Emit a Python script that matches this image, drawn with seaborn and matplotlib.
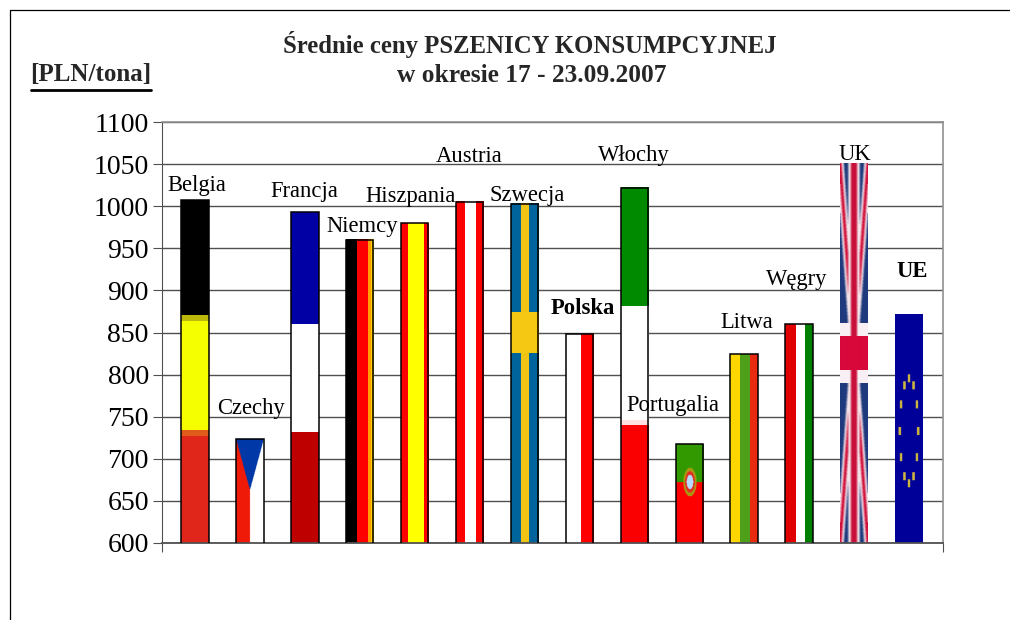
import numpy as np
import pandas as pd
import matplotlib.pyplot as plt
import seaborn as sns
from matplotlib.colors import to_rgb
from matplotlib.lines import Line2D

# Dane
kraje = ['Belgia', 'Czechy', 'Francja', 'Niemcy', 'Hiszpania', 'Austria', 'Szwecja',
         'Polska', 'Włochy', 'Portugalia', 'Litwa', 'Węgry', 'UK', 'UE']
ceny = [1007, 723, 993, 960, 980, 1005, 1003, 848, 1022, 717, 824, 860, 1051, 871]
skala_y = list(range(600, 1101, 50))
tytul = 'Średnie ceny PSZENICY KONSUMPCYJNEJ'
podtytul = 'w okresie 17 - 23.09.2007'
jednostka = '[PLN/tona]'

# Przesuniecia etykiet wzgledem srodka gornej krawedzi slupka (piksele)
przesuniecia = {'Belgia': (2, 15), 'Czechy': (1, 31), 'Francja': (0, 21), 'Niemcy': (2, 13),
                'Hiszpania': (-4, 27), 'Austria': (0, 45), 'Szwecja': (3, 8), 'Polska': (3, 26),
                'Włochy': (0, 32), 'Portugalia': (-16, 39), 'Litwa': (3, 32), 'Węgry': (-2, 45),
                'UK': (1, 9), 'UE': (3, 43)}
pogrubione = ['Polska', 'UE']

# Pasy flag: (kolor, udzial)
poziome = {
    'Belgia': [('#000000', 115), ('#bdb90a', 6), ('#f5ff00', 109), ('#e05a1a', 6), ('#e0261a', 107)],
    'Francja': [('#0000a5', 112), ('#ffffff', 108), ('#bf0000', 111)],
    'Włochy': [('#008a00', 119), ('#ffffff', 113), ('#ffdfdf', 5), ('#fa0000', 118)],
}
pionowe = {
    'Niemcy': [('#000000', 10), ('#ff0000', 10), ('#ffa000', 3), ('#ffd000', 3)],
    'Hiszpania': [('#ff0000', 7), ('#ffff00', 16), ('#ff0000', 5)],
    'Austria': [('#ff0000', 9), ('#ffffff', 11), ('#ff0000', 8)],
    'Polska': [('#ffffff', 14), ('#ff0000', 13)],
    'Litwa': [('#ffd700', 10), ('#4ea01a', 9), ('#e82a10', 8)],
    'Węgry': [('#e00000', 11), ('#ffffff', 10), ('#008000', 8)],
}


def pasy(lista, poziomo):
    kolory = np.repeat([to_rgb(k) for k, _ in lista], [u for _, u in lista], axis=0)
    return kolory[:, None, :] if poziomo else kolory[None, :, :]


def siatka(h, w):
    return np.meshgrid(np.linspace(-1, 1, w), np.linspace(-1, 1, h))


def rozmyj(img, n):
    # proste rozmycie w poziomie
    okno = np.ones(n) / n
    wynik = np.zeros(img.shape)
    for k in range(3):
        for r in range(img.shape[0]):
            wynik[r, :, k] = np.convolve(np.pad(img[r, :, k], n, mode='edge'), okno, mode='same')[n:-n]
    return wynik


def czechy():
    u, v = siatka(200, 60)
    img = np.ones((200, 60, 3))
    img[u < 0] = to_rgb('#f01a08')
    img[(v + 1) / 0.98 < 1 - np.abs(u)] = to_rgb('#0038a8')
    return img


def szwecja():
    u, v = siatka(340, 58)
    img = np.zeros((340, 58, 3)) + to_rgb('#00649c')
    img[np.abs(u - 0.0) < 0.27] = to_rgb('#f0c414')
    img[(v > -0.36) & (v < -0.12)] = to_rgb('#f5c814')
    return img


def portugalia():
    u, v = siatka(200, 56)
    img = np.zeros((200, 56, 3)) + to_rgb('#ff0000')
    img[v < -0.234] = to_rgb('#339900')
    r = np.sqrt((u / 0.48) ** 2 + ((v + 0.234) / 0.29) ** 2)
    img[r < 1] = to_rgb('#a89a10')
    img[r < 0.75] = to_rgb('#e03020')
    img[r < 0.5] = to_rgb('#b8dcff')
    return img


def wielka_brytania():
    u, v = siatka(380, 108)
    img = np.zeros((380, 108, 3)) + to_rgb('#1f3a7d')
    d = np.abs(np.abs(u) - np.abs(v))
    img[d < 0.26] = to_rgb('#f4e4ea')
    img[d < 0.11] = to_rgb('#d0103a')
    img[np.abs(u) < 0.42] = to_rgb('#f4e4ea')
    img[np.abs(v) < 0.16] = to_rgb('#f8f0f4')
    img[np.abs(u) < 0.22] = to_rgb('#c8103a')
    img[np.abs(v) < 0.09] = to_rgb('#d8083c')
    return rozmyj(img, 9)


def unia():
    u, v = siatka(456, 120)
    img = np.zeros((456, 120, 3)) + to_rgb('#000099')
    for kat in np.radians(np.arange(0, 360, 30)):
        su, sv = 0.66 * np.cos(kat), 0.46 * np.sin(kat) + 0.02
        img[(np.abs(u - su) < 0.09) & (np.abs(v - sv) < 0.035)] = to_rgb('#d0b840')
    return img


obrazy = {'Czechy': czechy(), 'Szwecja': szwecja(), 'Portugalia': portugalia(),
          'UK': wielka_brytania(), 'UE': unia()}
for k, lista in poziome.items():
    obrazy[k] = pasy(lista, True)
for k, lista in pionowe.items():
    obrazy[k] = pasy(lista, False)

df = pd.DataFrame({'kraj': kraje, 'cena': ceny})

sns.set_style('white')
plt.rcParams['font.family'] = ['Liberation Serif', 'DejaVu Serif']

fig = plt.figure(figsize=(10.1, 6.2), dpi=100)
ax = fig.add_axes([162 / 1010, 77 / 620, 781 / 1010, 421 / 620])

sns.barplot(data=df, x='kraj', y='cena', width=0.5, ax=ax, color='white')

ax.set_ylim(600, 1100)
ax.set_yticks(skala_y)
ax.yaxis.grid(True, color='#505050', linewidth=1)
ax.set_axisbelow(True)

# Wypelnienie slupkow flagami
for bar, kraj in zip(ax.patches, kraje):
    x0, x1 = bar.get_x(), bar.get_x() + bar.get_width()
    gora = bar.get_height()
    interp = 'antialiased' if kraj in ['UK', 'UE', 'Portugalia', 'Czechy'] else 'nearest'
    ax.imshow(obrazy[kraj], extent=(x0, x1, 600, gora), aspect='auto', zorder=2, interpolation=interp)
    bar.set_facecolor('none')
    bar.set_zorder(3)
    if kraj in ['UK', 'UE']:
        bar.set_edgecolor('none')
    else:
        bar.set_edgecolor('black')
        bar.set_linewidth(1.1)
    ax.annotate(kraj, xy=((x0 + x1) / 2, gora), xytext=przesuniecia[kraj], textcoords='offset pixels',
                ha='center', va='center', fontsize=16.3, color='black', zorder=5, annotation_clip=False,
                fontweight='bold' if kraj in pogrubione else 'normal')

ax.set_xlim(-0.60, 13.62)
ax.set_xticks([-0.60, 13.62])
ax.set_xticklabels([])
ax.set_xlabel('')
ax.set_ylabel('')
ax.tick_params(axis='both', direction='out', length=6.5, width=0.8, color='#505050', left=True, bottom=True)
ax.tick_params(axis='y', labelsize=20, pad=3, labelcolor='black')

for s in ['top', 'right']:
    ax.spines[s].set_color('#909090')
    ax.spines[s].set_linewidth(1.2)
ax.spines['left'].set_color('#505050')
ax.spines['bottom'].set_color('#505050')
ax.spines['bottom'].set_linewidth(1.3)

# Tytul i jednostka
fig.text(530 / 1010, 1 - 44 / 620, tytul, ha='center', va='center', fontsize=17.8, fontweight='bold')
fig.text(532 / 1010, 1 - 76 / 620, podtytul, ha='center', va='center', fontsize=18.3, fontweight='bold')
fig.text(91 / 1010, 1 - 75 / 620, jednostka, ha='center', va='center', fontsize=18, fontweight='bold')
fig.add_artist(Line2D([31 / 1010, 151 / 1010], [1 - 90 / 620, 1 - 90 / 620], color='black', linewidth=2))

# Ramka obrazu
fig.add_artist(Line2D([10 / 1010, 10 / 1010, 1], [0, 1 - 10 / 620, 1 - 10 / 620], color='black', linewidth=0.9))

fig.savefig('out.png', dpi=100)
